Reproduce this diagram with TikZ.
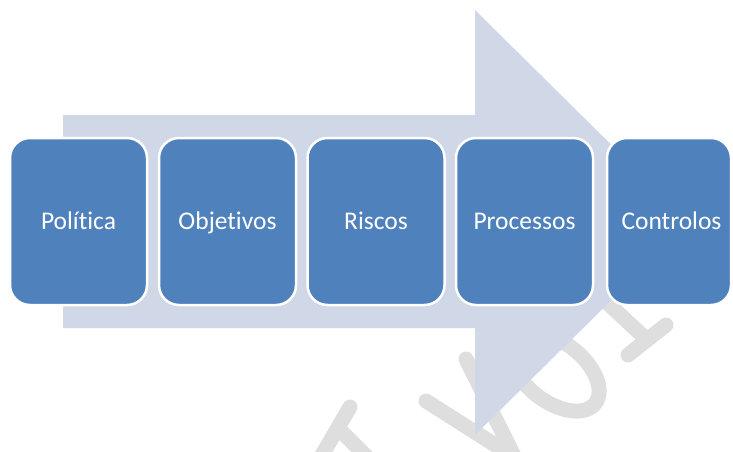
\documentclass[tikz,border=0pt]{standalone}
\usepackage{fontspec}
\setmainfont{Carlito}[Ligatures={NoCommon,NoContextual}]
\definecolor{boxblue}{HTML}{4F81BD}
\definecolor{arrowfill}{HTML}{D0D8E8}
\definecolor{markgray}{HTML}{DEDEDE}
\begin{document}
\begin{tikzpicture}[x=1pt,y=-1pt,
  stage/.style={draw=white, line width=2.5pt, fill=boxblue, rounded corners=20pt,
    minimum width=137pt, minimum height=167pt, inner sep=0pt,
    text=white, font=\fontsize{25.5}{30}\selectfont, text height=16.4pt, text depth=0pt},
  wmstroke/.style={draw=markgray, line width=15pt, line cap=round}]
\useasboundingbox (0,0) rectangle (733,452);
\clip (0,0) rectangle (733,452);

% faint background watermark strokes
\draw[wmstroke] (350,407) -- (318,462);
\draw[wmstroke] (342,432) -- (372,462);
\draw[wmstroke] (426,401) -- (522,462);
\draw[wmstroke] (466,359) -- (517,462);
\draw[wmstroke, rotate around={-38:(555,372)}] (555,372) ellipse [x radius=51, y radius=29.5];
\draw[wmstroke] (600,296) -- (645,338);
\draw[wmstroke] (628,355) -- (666,325);

% large block arrow behind the stages
\fill[arrowfill] (63,115) -- (475,115) -- (475,10) -- (690,222.5)
  -- (475,435) -- (475,328) -- (63,328) -- cycle;

% stages
\node[stage] (b1) at (78.5,221.5) {Política};
\node[stage] (b2) at (227.5,221.5) {Objetivos};
\node[stage] (b3) at (376,221.5) {Riscos};
\node[stage] (b4) at (524.5,221.5) {Processos};
\node[stage, minimum width=124pt] (b5) at (669,221.5) {\hspace*{5pt}Controlos};
\end{tikzpicture}
\end{document}
